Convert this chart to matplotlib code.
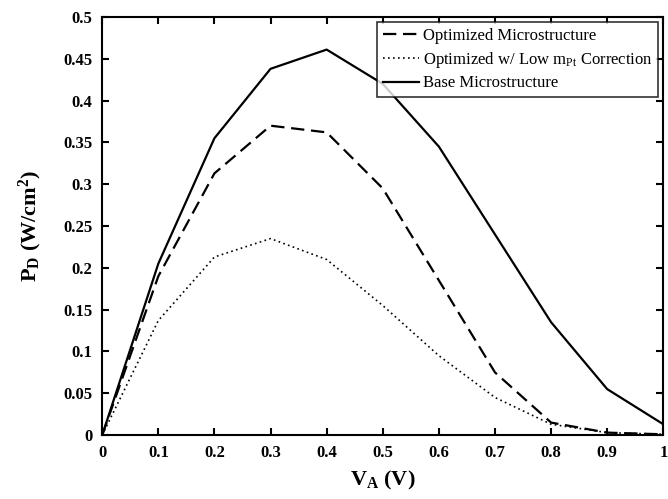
import matplotlib
matplotlib.use("Agg")
import matplotlib.pyplot as plt

# applied voltage (V)
va = [0, 0.1, 0.2, 0.3, 0.4, 0.5, 0.6, 0.7, 0.8, 0.9, 1.0]
# power density (W/cm^2)
p_optimized = [0, 0.19, 0.313, 0.37, 0.362, 0.295, 0.185, 0.075, 0.015, 0.003, 0.001]
p_low_pt = [0, 0.137, 0.213, 0.235, 0.21, 0.155, 0.095, 0.045, 0.013, 0.003, 0.001]
p_base = [0, 0.205, 0.355, 0.438, 0.461, 0.42, 0.345, 0.24, 0.135, 0.055, 0.013]

xticks = [0, 0.1, 0.2, 0.3, 0.4, 0.5, 0.6, 0.7, 0.8, 0.9, 1]
xlabels = ["0", "0.1", "0.2", "0.3", "0.4", "0.5", "0.6", "0.7", "0.8", "0.9", "1"]
yticks = [0, 0.05, 0.1, 0.15, 0.2, 0.25, 0.3, 0.35, 0.4, 0.45, 0.5]
ylabels = ["0", "0.05", "0.1", "0.15", "0.2", "0.25", "0.3", "0.35", "0.4", "0.45", "0.5"]

plt.rcParams["font.family"] = ["Liberation Serif", "DejaVu Serif"]
plt.rcParams["mathtext.fontset"] = "custom"
plt.rcParams["mathtext.rm"] = "Liberation Serif"
plt.rcParams["mathtext.it"] = "Liberation Serif"
plt.rcParams["mathtext.bf"] = "Liberation Serif:bold"

fig = plt.figure(figsize=(6.68, 4.99), dpi=100)
ax = fig.add_axes([0.153, 0.128, 0.84, 0.838])

ax.plot(va, p_optimized, color="black", linestyle=(0, (6, 3)), linewidth=1.6,
        label="Optimized Microstructure")
ax.plot(va, p_low_pt, color="black", linestyle=(0, (1, 2)), linewidth=1.2,
        label=r"Optimized w/ Low m$_{\mathregular{Pt}}$ Correction")
ax.plot(va, p_base, color="black", linestyle="-", linewidth=1.6,
        label="Base Microstructure")

ax.set_xlim(0, 1)
ax.set_ylim(0, 0.5)
ax.set_xticks(xticks)
ax.set_xticklabels(xlabels, fontweight="bold", fontsize=12)
ax.set_yticks(yticks)
ax.set_yticklabels(ylabels, fontweight="bold", fontsize=12)
ax.tick_params(direction="in", top=True, right=True, length=5, width=1.5, pad=7)
for s in ax.spines.values():
    s.set_linewidth(1.5)

ax.set_xlabel(r"$\mathbf{V_A}$ (V)", fontsize=16, fontweight="bold", labelpad=6)
ax.set_ylabel(r"$\mathbf{P_D}$ (W/cm$^\mathbf{2}$)", fontsize=16, fontweight="bold",
              labelpad=14)

leg = ax.legend(loc="upper right", fontsize=12, frameon=True, fancybox=False,
                edgecolor="black", borderaxespad=0.3, handlelength=2.2,
                handletextpad=0.2, borderpad=0.35, labelspacing=0.35)
leg.get_frame().set_linewidth(1.2)

fig.savefig("out.png", dpi=100)
